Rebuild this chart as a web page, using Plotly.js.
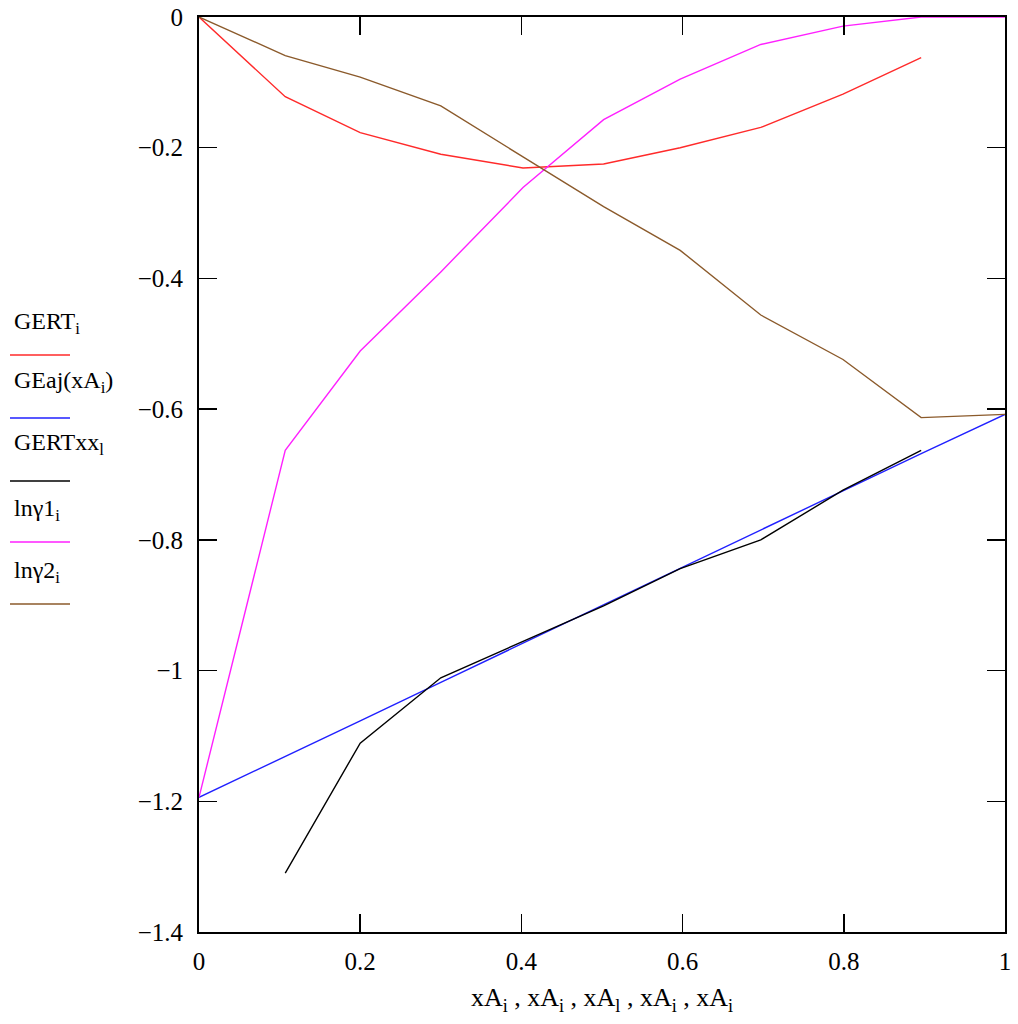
<!DOCTYPE html>
<html>
<head>
<meta charset="utf-8">
<script src="https://cdn.plot.ly/plotly-3.0.1.min.js"></script>
<style>html,body{margin:0;padding:0;background:#fff;}#chart{width:1018px;height:1024px;}</style>
</head>
<body>
<div id="chart"></div>
<script>
// x values (xA_i)
const xA = [0, 0.107, 0.2, 0.3, 0.402, 0.502, 0.597, 0.697, 0.799, 0.896, 1];
// GERT_i (red) - defined up to 0.9
const GERT = [0, -0.122, -0.177, -0.21, -0.231, -0.225, -0.2, -0.169, -0.118, -0.062, null];
// GEaj(xA_i) (blue)
const GEaj = [-1.194, -1.132, -1.077, -1.018, -0.958, -0.900, -0.843, -0.784, -0.725, -0.668, -0.608];
// GERTxx_l (black)
const xL = [0.107, 0.2, 0.3, 0.402, 0.502, 0.597, 0.697, 0.799, 0.896];
const GERTxx = [-1.31, -1.111, -1.011, -0.956, -0.901, -0.844, -0.800, -0.724, -0.663];
// ln gamma1 (magenta)
const lng1 = [-1.194, -0.663, -0.511, -0.39, -0.261, -0.157, -0.095, -0.042, -0.014, 0.0, 0.0];
// ln gamma2 (brown)
const lng2 = [0, -0.059, -0.092, -0.136, -0.214, -0.29, -0.357, -0.456, -0.524, -0.613, -0.608];

const yTicks = [0, -0.2, -0.4, -0.6, -0.8, -1, -1.2, -1.4];
const yTickText = ['0', '\u22120.2', '\u22120.4', '\u22120.6', '\u22120.8', '\u22121', '\u22121.2', '\u22121.4'];
const xTicks = [0, 0.2, 0.4, 0.6, 0.8, 1];
const xTickText = ['0', '0.2', '0.4', '0.6', '0.8', '1'];

const legendLabels = ['GERT<sub>i</sub>', 'GEaj(xA<sub>i</sub>)', 'GERTxx<sub>l</sub>', 'ln\u03b31<sub>i</sub>', 'ln\u03b32<sub>i</sub>'];
const colors = ['#ff2a2a', '#2020ff', '#000000', '#ff20ff', '#8b5a2b'];

const font = 'Liberation Serif, Times New Roman, serif';
const lw = 1.4;

const traces = [
  {x: xA, y: GERT, mode: 'lines', line: {color: colors[0], width: lw}},
  {x: xA, y: GEaj, mode: 'lines', line: {color: colors[1], width: lw}},
  {x: xL, y: GERTxx, mode: 'lines', line: {color: colors[2], width: lw}},
  {x: xA, y: lng1, mode: 'lines', line: {color: colors[3], width: lw}},
  {x: xA, y: lng2, mode: 'lines', line: {color: colors[4], width: lw}}
];

const H = 1024, W = 1018;
const legTextY = [323, 382, 444, 510, 572];
const legLineY = [355, 418, 481, 542, 604];
const annotations = legendLabels.map((t, i) => ({
  xref: 'paper', yref: 'paper',
  x: (12 - 199) / (1005 - 199), y: 1 - (legTextY[i] - 17) / (932 - 17),
  xanchor: 'left', yanchor: 'middle', showarrow: false,
  text: t, font: {family: font, size: 24, color: '#000'}
}));
const shapes = legendLabels.map((t, i) => ({
  type: 'line', xref: 'paper', yref: 'paper',
  x0: (10 - 199) / (1005 - 199), x1: (70 - 199) / (1005 - 199),
  y0: 1 - (legLineY[i] - 17) / (932 - 17), y1: 1 - (legLineY[i] - 17) / (932 - 17),
  line: {color: colors[i], width: 1.6}
}));

const layout = {
  width: W, height: H,
  margin: {l: 199, r: 13, t: 17, b: 92},
  paper_bgcolor: '#fff', plot_bgcolor: '#fff',
  showlegend: false,
  font: {family: font, color: '#000'},
  xaxis: {
    range: [0, 1], tickvals: xTicks, ticktext: xTickText,
    ticks: 'inside', ticklen: 18, tickwidth: 1.5, tickcolor: '#000',
    showline: true, linecolor: '#000', linewidth: 2, mirror: 'ticks',
    showgrid: false, zeroline: false,
    tickfont: {family: font, size: 25},
    ticklabelstandoff: 6,
    title: {text: 'xA<sub>i</sub> , xA<sub>i</sub> , xA<sub>l</sub> , xA<sub>i</sub> , xA<sub>i</sub>', font: {family: font, size: 26}, standoff: 14}
  },
  yaxis: {
    range: [-1.4, 0], tickvals: yTicks, ticktext: yTickText,
    ticks: 'inside', ticklen: 18, tickwidth: 1.5, tickcolor: '#000',
    showline: true, linecolor: '#000', linewidth: 2, mirror: 'ticks',
    showgrid: false, zeroline: false,
    tickfont: {family: font, size: 25},
    ticklabelstandoff: 9
  },
  annotations: annotations,
  shapes: shapes
};

Plotly.newPlot('chart', traces, layout, {displayModeBar: false, staticPlot: true});
</script>
</body>
</html>
